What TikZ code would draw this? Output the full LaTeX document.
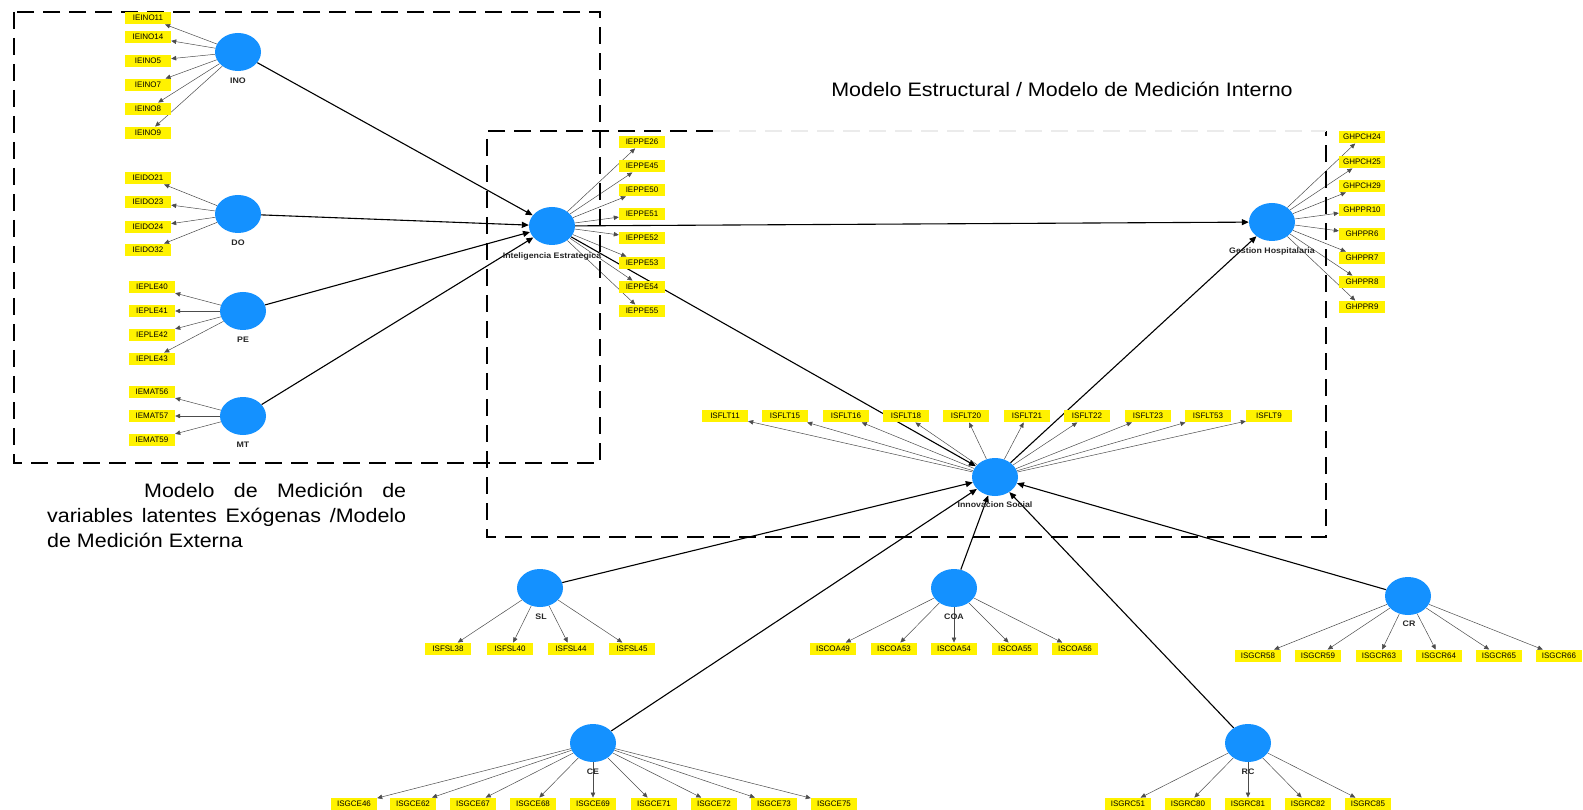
\documentclass[tikz,border=0pt]{standalone}
\usepackage{fontspec}
\setmainfont{Liberation Sans}
\newfontfamily\wideheadfnt[FakeStretch=1.1]{Liberation Sans}
\usetikzlibrary{shapes.geometric, arrows.meta, backgrounds}
\definecolor{latblue}{RGB}{20,145,255}
\tikzset{
  lat/.style    = {ellipse, fill=latblue, minimum width=46pt, minimum height=38pt, inner sep=0pt},
  ind/.style    = {rectangle, fill=yellow, minimum width=46pt, minimum height=12.5pt, inner sep=0pt,
                   font=\fontsize{8}{9}\selectfont},
  latlbl/.style = {font=\wideheadfnt\bfseries\fontsize{8}{9}\selectfont, text=black!85, inner sep=1pt},
  ld/.style     = {-{Triangle[length=5pt,width=4.5pt]}, black!70, line width=0.5pt},
  sp/.style     = {-{Triangle[length=7pt,width=6pt]}, line width=1.1pt},
  dbox/.style   = {line width=2.5pt, dash pattern=on 17pt off 9pt},
  ttl/.style    = {font=\wideheadfnt\fontsize{19.5}{25}\selectfont, inner sep=0pt},
}

\begin{document}
\begin{tikzpicture}[x=1pt, y=-1pt]
  \useasboundingbox (0,0) rectangle (1583,810);

  % frames
  \draw[dbox] (14,12) rectangle (600,463);
  \draw[dbox] (713,131) -- (487,131) -- (487,537) -- (1326,537) -- (1326,131);
  \draw[dbox, black!8] (713,131) -- (1326,131);

  % texts
  \node[ttl] (intlbl) at (1062,89) {Modelo Estructural / Modelo de Medici\'on Interno};
  \node[ttl, text width=359pt, align=justify, anchor=north west] (extlbl) at (47,483)
    {\hspace*{97pt}Modelo de Medición de\linebreak variables latentes Exógenas /Modelo\linebreak de Medición Externa};

  % latent variables
  \node[lat] (INO) at (238,52) {};
  \node[lat] (DO)  at (238,214) {};
  \node[lat] (PE)  at (243,311) {};
  \node[lat] (MT)  at (243,416) {};
  \node[lat] (IE)  at (552,226) {};
  \node[lat] (GH)  at (1272,222) {};
  \node[lat] (IS)  at (995,477) {};
  \node[lat] (SL)  at (540,588) {};
  \node[lat] (COA) at (954,588) {};
  \node[lat] (CR)  at (1408,596) {};
  \node[lat] (CE)  at (593,743) {};
  \node[lat] (RC)  at (1248,743) {};

  \node[latlbl] (INOlbl) at (238,81) {INO};
  \node[latlbl] (DOlbl)  at (238,243) {DO};
  \node[latlbl] (PElbl)  at (243,340) {PE};
  \node[latlbl] (MTlbl)  at (243,445) {MT};
  \node[latlbl] (IElbl)  at (552,256) {Inteligencia Estrategica};
  \node[latlbl] (GHlbl)  at (1272,251) {Gestion Hospitalaria};
  \node[latlbl] (ISlbl)  at (995,505) {Innovacion Social};
  \node[latlbl] (SLlbl)  at (541,617) {SL};
  \node[latlbl] (COAlbl) at (954,617) {COA};
  \node[latlbl] (CRlbl)  at (1409,624) {CR};
  \node[latlbl] (CElbl)  at (593,772) {CE};
  \node[latlbl] (RClbl)  at (1248,772) {RC};

  % indicators
  \node[ind] (IEINO11) at (148,18) {IEINO11};
  \node[ind] (IEINO14) at (148,37) {IEINO14};
  \node[ind] (IEINO5)  at (148,61) {IEINO5};
  \node[ind] (IEINO7)  at (148,85) {IEINO7};
  \node[ind] (IEINO8)  at (148,109) {IEINO8};
  \node[ind] (IEINO9)  at (148,133) {IEINO9};

  \node[ind] (IEIDO21) at (148,178) {IEIDO21};
  \node[ind] (IEIDO23) at (148,202) {IEIDO23};
  \node[ind] (IEIDO24) at (148,227) {IEIDO24};
  \node[ind] (IEIDO32) at (148,250) {IEIDO32};

  \node[ind] (IEPLE40) at (152,287) {IEPLE40};
  \node[ind] (IEPLE41) at (152,311) {IEPLE41};
  \node[ind] (IEPLE42) at (152,335) {IEPLE42};
  \node[ind] (IEPLE43) at (152,359) {IEPLE43};

  \node[ind] (IEMAT56) at (152,392) {IEMAT56};
  \node[ind] (IEMAT57) at (152,416) {IEMAT57};
  \node[ind] (IEMAT59) at (152,440) {IEMAT59};

  \node[ind] (IEPPE26) at (642,142) {IEPPE26};
  \node[ind] (IEPPE45) at (642,166) {IEPPE45};
  \node[ind] (IEPPE50) at (642,190) {IEPPE50};
  \node[ind] (IEPPE51) at (642,214) {IEPPE51};
  \node[ind] (IEPPE52) at (642,238) {IEPPE52};
  \node[ind] (IEPPE53) at (642,263) {IEPPE53};
  \node[ind] (IEPPE54) at (642,287) {IEPPE54};
  \node[ind] (IEPPE55) at (642,311) {IEPPE55};

  \node[ind] (GHPCH24) at (1362,137) {GHPCH24};
  \node[ind] (GHPCH25) at (1362,162) {GHPCH25};
  \node[ind] (GHPCH29) at (1362,186) {GHPCH29};
  \node[ind] (GHPPR10) at (1362,210) {GHPPR10};
  \node[ind] (GHPPR6)  at (1362,234) {GHPPR6};
  \node[ind] (GHPPR7)  at (1362,258) {GHPPR7};
  \node[ind] (GHPPR8)  at (1362,282) {GHPPR8};
  \node[ind] (GHPPR9)  at (1362,307) {GHPPR9};

  \node[ind] (ISFLT11) at (725,416) {ISFLT11};
  \node[ind] (ISFLT15) at (785,416) {ISFLT15};
  \node[ind] (ISFLT16) at (846,416) {ISFLT16};
  \node[ind] (ISFLT18) at (906,416) {ISFLT18};
  \node[ind] (ISFLT20) at (966,416) {ISFLT20};
  \node[ind] (ISFLT21) at (1027,416) {ISFLT21};
  \node[ind] (ISFLT22) at (1087,416) {ISFLT22};
  \node[ind] (ISFLT23) at (1148,416) {ISFLT23};
  \node[ind] (ISFLT53) at (1208,416) {ISFLT53};
  \node[ind] (ISFLT9)  at (1269,416) {ISFLT9};

  \node[ind] (ISFSL38) at (448,649) {ISFSL38};
  \node[ind] (ISFSL40) at (510,649) {ISFSL40};
  \node[ind] (ISFSL44) at (571,649) {ISFSL44};
  \node[ind] (ISFSL45) at (632,649) {ISFSL45};

  \node[ind] (ISCOA49) at (833,649) {ISCOA49};
  \node[ind] (ISCOA53) at (894,649) {ISCOA53};
  \node[ind] (ISCOA54) at (954,649) {ISCOA54};
  \node[ind] (ISCOA55) at (1015,649) {ISCOA55};
  \node[ind] (ISCOA56) at (1075,649) {ISCOA56};

  \node[ind] (ISGCR58) at (1258,656) {ISGCR58};
  \node[ind] (ISGCR59) at (1318,656) {ISGCR59};
  \node[ind] (ISGCR63) at (1379,656) {ISGCR63};
  \node[ind] (ISGCR64) at (1439,656) {ISGCR64};
  \node[ind] (ISGCR65) at (1499,656) {ISGCR65};
  \node[ind] (ISGCR66) at (1559,656) {ISGCR66};

  \node[ind] (ISGCE46) at (354,804) {ISGCE46};
  \node[ind] (ISGCE62) at (413,804) {ISGCE62};
  \node[ind] (ISGCE67) at (473,804) {ISGCE67};
  \node[ind] (ISGCE68) at (533,804) {ISGCE68};
  \node[ind] (ISGCE69) at (593,804) {ISGCE69};
  \node[ind] (ISGCE71) at (654,804) {ISGCE71};
  \node[ind] (ISGCE72) at (714,804) {ISGCE72};
  \node[ind] (ISGCE73) at (774,804) {ISGCE73};
  \node[ind] (ISGCE75) at (834,804) {ISGCE75};

  \node[ind] (ISGRC51) at (1128,804) {ISGRC51};
  \node[ind] (ISGRC80) at (1188,804) {ISGRC80};
  \node[ind] (ISGRC81) at (1248,804) {ISGRC81};
  \node[ind] (ISGRC82) at (1308,804) {ISGRC82};
  \node[ind] (ISGRC85) at (1368,804) {ISGRC85};

  \begin{pgfonlayer}{background}
    % structural paths
    \draw[sp] (INO) -- (IE);
    \draw[sp] (DO) -- (IE);
    \draw[sp] (PE) -- (IE);
    \draw[sp] (MT) -- (IE);
    \draw[sp] (IE) -- (GH);
    \draw[sp] (IE) -- (IS);
    \draw[sp] (IS) -- (GH);
    \draw[sp] (SL) -- (IS);
    \draw[sp] (COA) -- (IS);
    \draw[sp] (CE) -- (IS);
    \draw[sp] (RC) -- (IS);
    \draw[sp] (CR) -- (IS);

    % loadings
    \draw[ld] (INO) -- (IEINO11);
    \draw[ld] (INO) -- (IEINO14);
    \draw[ld] (INO) -- (IEINO5);
    \draw[ld] (INO) -- (IEINO7);
    \draw[ld] (INO) -- (IEINO8);
    \draw[ld] (INO) -- (IEINO9);
    \draw[ld] (DO) -- (IEIDO21);
    \draw[ld] (DO) -- (IEIDO23);
    \draw[ld] (DO) -- (IEIDO24);
    \draw[ld] (DO) -- (IEIDO32);
    \draw[ld] (PE) -- (IEPLE40);
    \draw[ld] (PE) -- (IEPLE41);
    \draw[ld] (PE) -- (IEPLE42);
    \draw[ld] (PE) -- (IEPLE43);
    \draw[ld] (MT) -- (IEMAT56);
    \draw[ld] (MT) -- (IEMAT57);
    \draw[ld] (MT) -- (IEMAT59);
    \draw[ld] (IE) -- (IEPPE26);
    \draw[ld] (IE) -- (IEPPE45);
    \draw[ld] (IE) -- (IEPPE50);
    \draw[ld] (IE) -- (IEPPE51);
    \draw[ld] (IE) -- (IEPPE52);
    \draw[ld] (IE) -- (IEPPE53);
    \draw[ld] (IE) -- (IEPPE54);
    \draw[ld] (IE) -- (IEPPE55);
    \draw[ld] (GH) -- (GHPCH24);
    \draw[ld] (GH) -- (GHPCH25);
    \draw[ld] (GH) -- (GHPCH29);
    \draw[ld] (GH) -- (GHPPR10);
    \draw[ld] (GH) -- (GHPPR6);
    \draw[ld] (GH) -- (GHPPR7);
    \draw[ld] (GH) -- (GHPPR8);
    \draw[ld] (GH) -- (GHPPR9);
    \draw[ld] (IS) -- (ISFLT11);
    \draw[ld] (IS) -- (ISFLT15);
    \draw[ld] (IS) -- (ISFLT16);
    \draw[ld] (IS) -- (ISFLT18);
    \draw[ld] (IS) -- (ISFLT20);
    \draw[ld] (IS) -- (ISFLT21);
    \draw[ld] (IS) -- (ISFLT22);
    \draw[ld] (IS) -- (ISFLT23);
    \draw[ld] (IS) -- (ISFLT53);
    \draw[ld] (IS) -- (ISFLT9);
    \draw[ld] (SL) -- (ISFSL38);
    \draw[ld] (SL) -- (ISFSL40);
    \draw[ld] (SL) -- (ISFSL44);
    \draw[ld] (SL) -- (ISFSL45);
    \draw[ld] (COA) -- (ISCOA49);
    \draw[ld] (COA) -- (ISCOA53);
    \draw[ld] (COA) -- (ISCOA54);
    \draw[ld] (COA) -- (ISCOA55);
    \draw[ld] (COA) -- (ISCOA56);
    \draw[ld] (CR) -- (ISGCR58);
    \draw[ld] (CR) -- (ISGCR59);
    \draw[ld] (CR) -- (ISGCR63);
    \draw[ld] (CR) -- (ISGCR64);
    \draw[ld] (CR) -- (ISGCR65);
    \draw[ld] (CR) -- (ISGCR66);
    \draw[ld] (CE) -- (ISGCE46);
    \draw[ld] (CE) -- (ISGCE62);
    \draw[ld] (CE) -- (ISGCE67);
    \draw[ld] (CE) -- (ISGCE68);
    \draw[ld] (CE) -- (ISGCE69);
    \draw[ld] (CE) -- (ISGCE71);
    \draw[ld] (CE) -- (ISGCE72);
    \draw[ld] (CE) -- (ISGCE73);
    \draw[ld] (CE) -- (ISGCE75);
    \draw[ld] (RC) -- (ISGRC51);
    \draw[ld] (RC) -- (ISGRC80);
    \draw[ld] (RC) -- (ISGRC81);
    \draw[ld] (RC) -- (ISGRC82);
    \draw[ld] (RC) -- (ISGRC85);
  \end{pgfonlayer}
\end{tikzpicture}
\end{document}
